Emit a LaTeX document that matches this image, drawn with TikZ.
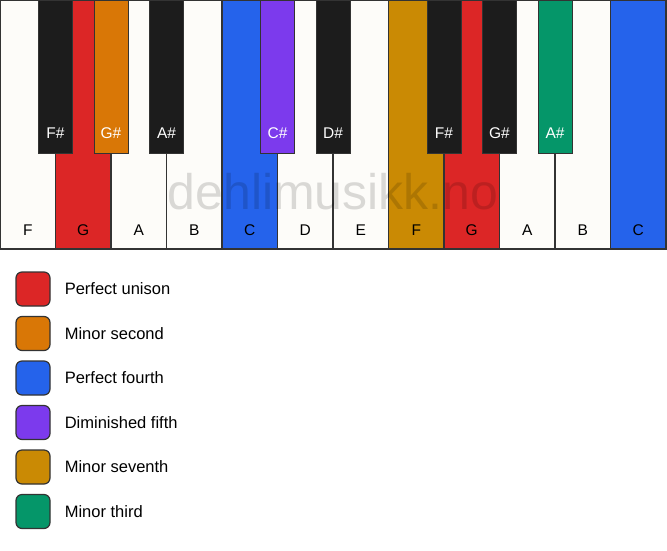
\documentclass[tikz,border=0pt]{standalone}
\usepackage{fontspec}
\setmainfont{Liberation Sans}
\usetikzlibrary{positioning}

\definecolor{keywhite}{HTML}{FDFCF9}
\definecolor{keyblack}{HTML}{1C1C1C}
\definecolor{keyline}{HTML}{333333}
\definecolor{unisonred}{HTML}{DC2626}
\definecolor{secondorange}{HTML}{D97706}
\definecolor{fourthblue}{HTML}{2563EB}
\definecolor{fifthpurple}{HTML}{7C3AED}
\definecolor{seventhgold}{HTML}{CA8A04}
\definecolor{thirdgreen}{HTML}{059669}

\tikzset{
  whitekey/.style={draw=keyline, line width=1.2pt, minimum width=55.5pt,
    minimum height=249pt, anchor=north west, inner sep=0pt, outer sep=0pt},
  blackkey/.style={draw=keyline, line width=1pt, minimum width=34pt,
    minimum height=153pt, anchor=north, inner sep=0pt, outer sep=0pt},
  whitetext/.style={inner sep=0pt, font=\fontsize{15.5}{18}\selectfont, text=black},
  blacktext/.style={inner sep=0pt, font=\fontsize{15.5}{18}\selectfont, text=white},
  swatch/.style={draw=keyline, line width=1.2pt, rounded corners=6pt,
    minimum size=34pt, inner sep=0pt},
  legtext/.style={inner sep=0pt, font=\fontsize{16.5}{20}\selectfont, anchor=west},
  watermark/.style={inner sep=0pt, font=\fontsize{50}{58}\selectfont,
    text=black, text opacity=0.14}
}

\begin{document}
\begin{tikzpicture}[x=1pt, y=-1pt]
\useasboundingbox[fill=white] (0,0) rectangle (667,550);

% white keys
\foreach \name/\col [count=\i from 0] in {F/keywhite, G/unisonred, A/keywhite,
    B/keywhite, C/fourthblue, D/keywhite, E/keywhite, F/seventhgold,
    G/unisonred, A/keywhite, B/keywhite, C/fourthblue} {
  \node[whitekey, fill=\col] (w\i) at (\i*55.5,0) {};
  \node[whitetext] (wl\i) at ([yshift=18.5pt]w\i.south) {\name};
}

% watermark
\node[watermark] (wm) at (333,191.5) {dehlimusikk.no};

% black keys
\foreach \name/\col/\at in {F\#/keyblack/0, G\#/secondorange/1, A\#/keyblack/2,
    C\#/fifthpurple/4, D\#/keyblack/5, F\#/keyblack/7, G\#/keyblack/8,
    A\#/thirdgreen/9} {
  \node[blackkey, fill=\col] (b\at) at (w\at.north east) {};
  \node[blacktext] (bl\at) at ([yshift=20pt]b\at.south) {\name};
}

% legend
\node[swatch, fill=unisonred] (s1) at (33,289) {};
\node[legtext, right=14pt of s1] (t1) {Perfect unison};
\node[swatch, fill=secondorange, below=9.3pt of s1] (s2) {};
\node[legtext, right=14pt of s2] (t2) {Minor second};
\node[swatch, fill=fourthblue, below=9.3pt of s2] (s3) {};
\node[legtext, right=14pt of s3] (t3) {Perfect fourth};
\node[swatch, fill=fifthpurple, below=9.3pt of s3] (s4) {};
\node[legtext, right=14pt of s4] (t4) {Diminished fifth};
\node[swatch, fill=seventhgold, below=9.3pt of s4] (s5) {};
\node[legtext, right=14pt of s5] (t5) {Minor seventh};
\node[swatch, fill=thirdgreen, below=9.3pt of s5] (s6) {};
\node[legtext, right=14pt of s6] (t6) {Minor third};
\end{tikzpicture}
\end{document}
